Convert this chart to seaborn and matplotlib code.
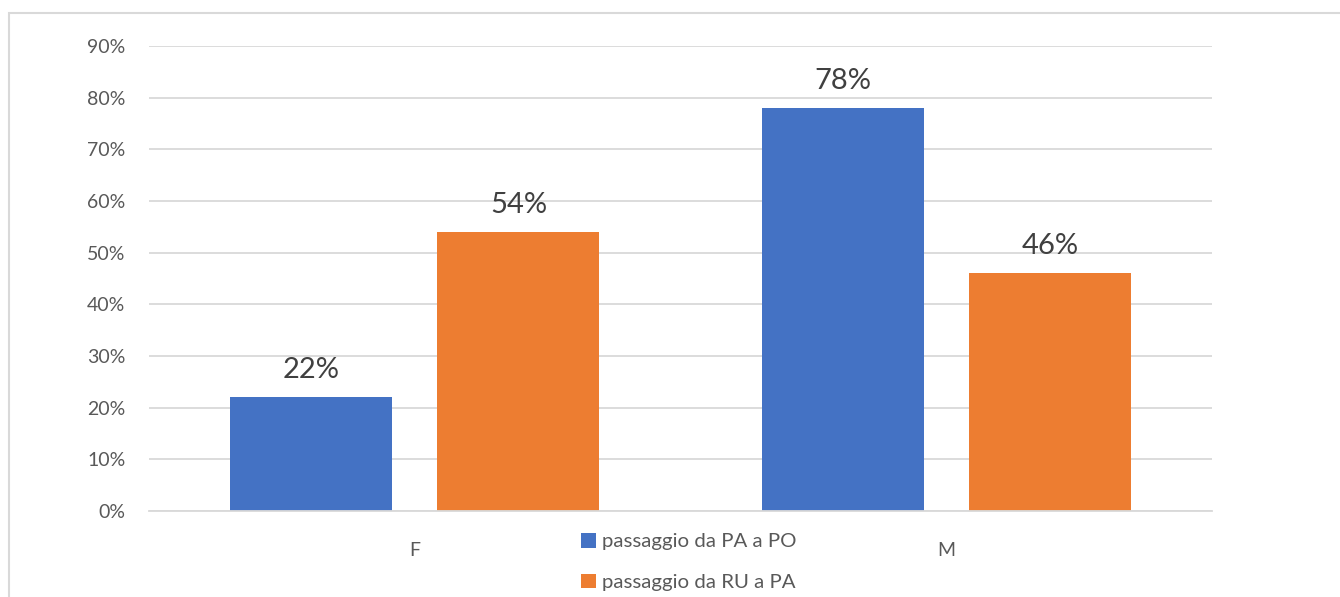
import matplotlib
matplotlib.use("Agg")
import matplotlib.pyplot as plt
import seaborn as sns
import pandas as pd
from matplotlib.patches import Rectangle

categories = ["F", "M"]
series = ["passaggio da PA a PO", "passaggio da RU a PA"]
values_pa_po = [0.22, 0.78]
values_ru_pa = [0.54, 0.46]
y_ticks = [0.0, 0.1, 0.2, 0.3, 0.4, 0.5, 0.6, 0.7, 0.8, 0.9]
y_tick_labels = ["0%", "10%", "20%", "30%", "40%", "50%", "60%", "70%", "80%", "90%"]

colors = ["#4472C4", "#ED7D31"]

df = pd.DataFrame({
    "sesso": categories * 2,
    "serie": [series[0]] * 2 + [series[1]] * 2,
    "valore": values_pa_po + values_ru_pa,
})

sns.set_theme(style="white")
plt.rcParams["font.family"] = ["Lato", "DejaVu Sans"]

fig = plt.figure(figsize=(13.4, 5.97), dpi=100)
ax = fig.add_axes([149 / 1340, 1 - 511 / 597, (1212 - 149) / 1340, (511 - 46) / 597])

# light outer frame of the chart area
fig.patches.append(Rectangle((9 / 1340, -0.1), 1.2, 1 - 13 / 597 + 0.1,
                             transform=fig.transFigure, fill=False,
                             edgecolor="#D9D9D9", linewidth=1.5, zorder=0))

sns.barplot(data=df, x="sesso", y="valore", hue="serie", order=categories,
            hue_order=series, palette=colors, width=0.78, gap=0.218,
            saturation=1, ax=ax, legend=True, edgecolor="none")

ax.set_ylim(0, 0.9)
ax.set_xlim(-0.5, 1.5)
ax.set_yticks(y_ticks)
ax.set_yticklabels(y_tick_labels)
ax.yaxis.grid(True, color="#D9D9D9", linewidth=1.3)
ax.set_axisbelow(True)
for s in ["top", "right", "left"]:
    ax.spines[s].set_visible(False)
ax.spines["bottom"].set_color("#D9D9D9")
ax.spines["bottom"].set_linewidth(1.3)
ax.set_xlabel("")
ax.set_ylabel("")
ax.tick_params(axis="y", length=0, pad=17, labelsize=14, labelcolor="#595959")
ax.tick_params(axis="x", length=0, pad=22, labelsize=14, labelcolor="#595959")

for cont in ax.containers:
    ax.bar_label(cont, labels=[f"{v:.0%}" for v in cont.datavalues],
                 padding=10, fontsize=21, color="#404040")

handles, labels = ax.get_legend_handles_labels()
ax.get_legend().remove()
fig.legend(handles, labels, loc="upper left",
           bbox_to_anchor=(571 / 1340, 1 - 523 / 597), frameon=False,
           fontsize=14.7, labelcolor="#595959", handlelength=0.7,
           handleheight=0.7, handletextpad=0.3, labelspacing=1.15,
           borderpad=0)

fig.savefig("out.png", dpi=100, facecolor="white")
